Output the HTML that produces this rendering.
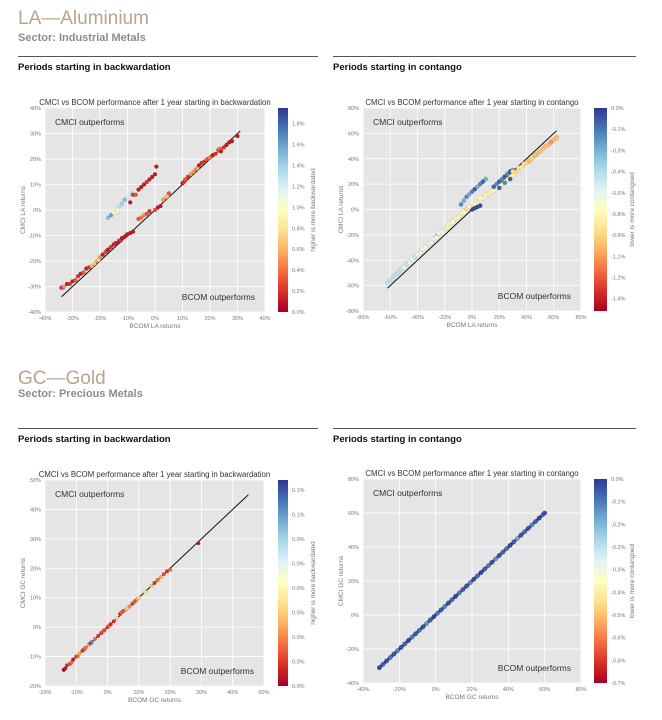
<!DOCTYPE html>
<html><head><meta charset="utf-8">
<style>
body{margin:0;background:#fff;width:662px;height:720px;overflow:hidden;font-family:"Liberation Sans",sans-serif;position:relative}
.h1{position:absolute;left:18px;font-size:19px;color:#b9a48d;font-weight:normal}
.h2{position:absolute;left:18px;font-size:11px;color:#8c8c8c;font-weight:bold}
.rule{position:absolute;height:1px;background:#555}
.per{position:absolute;font-size:9.5px;font-weight:bold;color:#111}
svg{position:absolute;left:0;top:0}
</style></head><body>
<div class="h1" style="top:8px">LA—Aluminium</div>
<div class="h2" style="top:32px">Sector: Industrial Metals</div>
<div class="rule" style="left:18px;width:300px;top:56px"></div>
<div class="rule" style="left:333px;width:303px;top:56px"></div>
<div class="per" style="left:18px;top:62px">Periods starting in backwardation</div>
<div class="per" style="left:333px;top:62px">Periods starting in contango</div>
<div class="h1" style="top:368px">GC—Gold</div>
<div class="h2" style="top:388px">Sector: Precious Metals</div>
<div class="rule" style="left:18px;width:300px;top:428px"></div>
<div class="rule" style="left:333px;width:303px;top:428px"></div>
<div class="per" style="left:18px;top:434px">Periods starting in backwardation</div>
<div class="per" style="left:333px;top:434px">Periods starting in contango</div>
<svg id="svg" width="662" height="720"></svg>
<script>
// LA backwardation
const laBackX=[-34,-33.5,-33,-32,-31,-30,-29,-28,-27,-26,-25,-24,-23,-22,-21,-20.5,-20,-19,-18,-17.5,-17,-16,-15,-14.5,-14,-13,-12.5,-12,-11,-10.5,-10,-9,-8,-6,-5,-4,-3,-2,0,1,2,3,4,4.5,5,10,10.5,11,12,13,14,15,15.5,16,17,18,19,20,20.5,21,22,23,23.5,24,25,26,27,28,30,
 -17,-16,-15,-14,-13.5,-13,-12,-11,-10,-9,-8.5,-8,-7,-6,-5,-4,-3,-2,-1,0,0.5];
const laBackY=[-30.5,-30.5,-30,-29,-29,-28,-27.5,-26,-25,-24.5,-23,-22.5,-22,-21,-20,-19.5,-18.5,-17.5,-16.5,-16,-15.5,-14.5,-13.5,-13,-13,-12,-12,-11,-10.5,-10,-9.5,-9,-8.5,-3.5,-3,-2,-1.5,-0.5,0,1,1.5,4,5,5.5,6.5,10.5,11,12,13,14,15,16,16.5,17.5,18.5,19,20,20.5,21,21.5,22,23.5,24,23,24.5,25.5,26.5,27,29,
 -3,-2,-1,-1,0,1.5,2.5,4,5,3,6.5,6,6,8,9,10,11,12,13,14,17];
const laBackC=[0.1,0.3,0.5,0.1,0.2,0.1,0.3,0.2,0.1,0.3,0.1,0.2,0.6,0.7,0.5,0.8,0.5,0.1,0.3,0.2,0.1,0.2,0.1,0.3,0.1,0.1,0.2,0.1,0.1,0.1,0.1,0.1,0.1,0.3,0.4,0.5,0.3,0.2,0.3,0.1,0.1,0.5,0.6,0.7,0.3,0.1,0.2,0.3,0.2,0.5,0.5,0.4,0.6,0.1,0.2,0.2,0.3,0.5,0.4,0.1,0.2,0.3,0.4,0.1,0.2,0.1,0.1,0.1,0.1,
 1.5,1.6,1.0,0.9,1.0,1.3,1.4,1.5,1.2,0.1,1.3,0.2,0.3,0.1,0.1,0.1,0.2,0.1,0.1,0.1,0.1];
const laBackTicks=[-40,-30,-20,-10,0,10,20,30,40];
const laBackCbTicks=[0,0.2,0.4,0.6,0.8,1.0,1.2,1.4,1.6,1.8];
// LA contango
const laContX=[-62,-60,-58,-56,-54,-52,-50,-48,-46,-44,-42,-40,-38,-36,-34,-32,-30,-28,-26,-24,-22,-20,-18,-16,-14,-12,-10,-8,-6,-4,-2,0,2,4,6,8,10,12,14,16,18,20,22,24,26,28,30,32,34,36,38,40,42,44,46,48,50,52,54,56,58,60,62,
 -8,-6,-4,-2,0,2,4,6,8,10,16,18,20,22,24,26,28,30,20,24,28,0,2,4,6,
 -58,-54,-50,-46,-42,-38,-34,-30,-26,-22,-18,-14,-10,-6,-2,2,6,10,30,34,38,42,46,50,54,58,62];
const laContY=[-58,-56,-53,-51,-49,-47,-45,-43,-41,-39,-37,-35,-33,-31,-29,-27,-25,-23,-21,-19,-17,-15,-13,-11,-9,-7,-5,-3,-1,0,1,2,3,5,7,9,10,12,14,15,17,19,20,22,24,26,27,29,31,33,35,37,38,40,42,44,46,48,50,51,53,55,57,
 4,7,10,12,14,16,18,20,22,24,18,20,22,24,26,28,30,31,17,21,24,0,1,2,3,
 -55,-50,-46,-42,-38,-34,-30,-26,-22,-18,-14,-10,-6,-2,2,5,9,12,30,33,36,39,43,46,50,53,56];
const laContC=[-0.5,-0.5,-0.5,-0.5,-0.6,-0.5,-0.6,-0.5,-0.6,-0.7,-0.6,-0.7,-0.6,-0.7,-0.7,-0.6,-0.7,-0.6,-0.4,-0.7,-0.7,-0.6,-0.7,-0.8,-0.7,-0.8,-0.7,-0.8,-0.8,-0.9,-0.8,-0.8,-0.7,-0.8,-0.8,-0.7,-0.7,-0.8,-0.7,-0.8,-0.7,-0.7,-0.8,-0.7,-0.8,-0.9,-0.8,-0.9,-0.9,-0.8,-0.9,-0.9,-1.0,-0.9,-1.0,-1.0,-0.9,-1.0,-1.0,-1.0,-1.1,-1.0,-1.0,
 -0.2,-0.3,-0.2,-0.3,-0.2,-0.1,-0.3,-0.2,-0.1,-0.3,-0.1,-0.2,-0.1,-0.2,-0.1,-0.2,-0.1,-0.2,-0.1,-0.2,-0.1,-0.05,-0.05,-0.05,-0.05,
 -0.5,-0.5,-0.6,-0.6,-0.5,-0.6,-0.7,-0.6,-0.7,-0.7,-0.8,-0.7,-0.8,-0.7,-0.8,-0.8,-0.7,-0.8,-0.9,-0.9,-0.9,-1.0,-1.0,-1.0,-1.0,-1.1,-1.0];
const laContTicks=[-80,-60,-40,-20,0,20,40,60,80];
const laContCbTicks=[0,-0.1556,-0.3111,-0.4667,-0.6222,-0.7778,-0.9333,-1.0889,-1.2444,-1.4];
const laContCbLabels=['0.0%','-0.1%','-0.3%','-0.4%','-0.6%','-0.8%','-0.9%','-1.1%','-1.2%','-1.4%'];
// GC backwardation
const gcBackX=[-14,-13.5,-13,-12,-11.5,-11,-10,-9.5,-9,-8,-7.5,-7,-6,-5.5,-5,-4,-3,-2,-1.5,-1,0,0.5,1,2,3,4,4.5,5,6,6.5,7,8,8.5,9,9.5,10,12,14,15,16,17,18,19,20,29];
const gcBackY=[-14.5,-14,-13,-12.5,-12,-11,-10,-9.8,-9,-8,-7.5,-7,-6,-5.5,-5,-4,-3,-2,-1.5,-1,0,0.5,1,2,3,4.5,5,5.5,6,6.5,7,8,8.5,9,9.5,10,12,14,15,16,17,18,19,19.5,28.5];
const gcBackC=[0,0.005,0.01,0.015,0.02,0.005,0.01,0.02,0.03,0.01,0.015,0.02,0.03,0.01,0.09,0.02,0.01,0.01,0.02,0.015,0.01,0.02,0.01,0.01,0.04,0.01,0.02,0.015,0.03,0.04,0.025,0.01,0.02,0.015,0.03,0.04,0.04,0.035,0.01,0.02,0.03,0.015,0.01,0.02,0.005];
const gcBackTicks=[-20,-10,0,10,20,30,40,50];
const gcBackCbTicks=[0,0.0125,0.025,0.0375,0.05,0.0625,0.075,0.0875,0.1];
const gcBackCbLabels=['0.0%','0.0%','0.0%','0.0%','0.0%','0.0%','0.0%','0.1%','0.1%'];
// GC contango
const gcContX=[-31,-29,-27,-25,-23,-21,-19,-17,-15,-13,-11,-9,-7,-5,-3,-1,1,3,5,7,9,11,13,15,17,19,21,23,25,27,29,31,33,35,37,39,41,43,45,47,49,51,53,55,57,59,60];
const gcContY=[-31,-29,-27,-25,-23,-21,-19,-17,-15,-13,-11,-9,-7,-5,-3,-1,1,3,5,7,9,11,13,15,17,19,21,23,25,27,29,31,33,35,37,39,41,43,45,47,49,51,53,55,57,59,60];
const gcContC=[-0.02,-0.05,-0.03,-0.08,-0.04,-0.1,-0.03,-0.06,-0.02,-0.09,-0.04,-0.07,-0.03,-0.12,-0.05,-0.02,-0.08,-0.04,-0.1,-0.03,-0.06,-0.02,-0.09,-0.05,-0.04,-0.11,-0.03,-0.07,-0.02,-0.05,-0.09,-0.04,-0.12,-0.03,-0.06,-0.08,-0.02,-0.05,-0.15,-0.04,-0.07,-0.03,-0.1,-0.05,-0.02,-0.06,-0.03];
const gcContTicks=[-40,-20,0,20,40,60,80];
const gcContCbTicks=[0,-0.0889,-0.1778,-0.2667,-0.3556,-0.4444,-0.5333,-0.6222,-0.7111,-0.8];
const gcContCbLabels=['0.0%','-0.1%','-0.2%','-0.2%','-0.3%','-0.4%','-0.5%','-0.6%','-0.6%','-0.7%'];

const stops=[[165,0,38],[215,48,39],[244,109,67],[253,174,97],[254,224,144],[255,255,191],[224,243,248],[171,217,233],[116,173,209],[69,117,180],[49,54,149]];
function cmap(t){t=Math.max(0,Math.min(1,t));const p=t*10,i=Math.min(9,Math.floor(p)),f=p-i;const a=stops[i],b=stops[i+1];return 'rgb('+[0,1,2].map(k=>Math.round(a[k]+(b[k]-a[k])*f)).join(',')+')';}
const NS='http://www.w3.org/2000/svg',svg=document.getElementById('svg');
function el(tag,at,parent){const e=document.createElementNS(NS,tag);for(const k in at)e.setAttribute(k,at[k]);(parent||svg).appendChild(e);return e;}
function txt(s,at,parent){const e=el('text',at,parent);e.textContent=s;return e;}
let gid=0;
function chart(c){
 const g=el('g',{});
 
 
 const [x0,x1]=[c.xt[0],c.xt[c.xt.length-1]],[y0,y1]=[c.yt[0],c.yt[c.yt.length-1]];
 const sx=v=>c.L+(v-x0)/(x1-x0)*(c.R-c.L), sy=v=>c.B-(v-y0)/(y1-y0)*(c.B-c.T);
 const bg=el('rect',{x:c.L,y:c.T,width:c.R-c.L,height:c.B-c.T,fill:'#e5e5e5'},g);
 
 
 c.xt.forEach(v=>{el('line',{x1:sx(v),x2:sx(v),y1:c.T,y2:c.B,stroke:'#fff','stroke-width':0.8},g);
  const t=txt(v+'%',{x:sx(v),y:c.B+8,'font-size':5.5,fill:'#777','text-anchor':'middle'},g);
  
  });
 c.yt.forEach(v=>{el('line',{x1:c.L,x2:c.R,y1:sy(v),y2:sy(v),stroke:'#fff','stroke-width':0.8},g);
  const t=txt(v+'%',{x:c.L-4,y:sy(v)+2,'font-size':5.5,fill:'#777','text-anchor':'end'},g);
  
  });
 if(c.thick){const tl=el('line',{x1:sx(c.line[0]),y1:sy(c.line[0]),x2:sx(c.line[1]),y2:sy(c.line[1]),stroke:'#2b3f8c','stroke-width':3},g);
  
  }
 const ln=el('line',{x1:sx(c.line[0]),y1:sy(c.line[0]),x2:sx(c.line[1]),y2:sy(c.line[1]),stroke:'#111','stroke-width':1},g);
 
 
 const cn=v=>(v-c.cmin)/(c.cmax-c.cmin);
 c.X.forEach((x,i)=>{const p=el('circle',{cx:sx(x),cy:sy(c.Y[i]),r:c.r||2,fill:cmap(cn(c.C[i])),stroke:'rgba(60,60,60,0.3)','stroke-width':0.3},g);
  
  });
 const t1=txt(c.title,{x:(c.L+c.R)/2,y:c.T-3,'font-size':7.8,fill:'#333','text-anchor':'middle'},g);
 
 
 const a1=txt('CMCI outperforms',{x:c.L+10,y:c.T+17,'font-size':8.5,fill:'#333'},g);
 
 
 const a2=txt('BCOM outperforms',{x:c.R-10,y:c.B-12,'font-size':8.5,fill:'#333','text-anchor':'end'},g);
 
 
 const xl=txt(c.xl,{x:(c.L+c.R)/2,y:c.B+16,'font-size':6.5,fill:'#777','text-anchor':'middle'},g);
 
 
 const yx=c.L-20,yy=(c.T+c.B)/2;
 const yl=txt(c.yl,{x:yx,y:yy,'font-size':6.5,fill:'#777','text-anchor':'middle',transform:`rotate(-90 ${yx} ${yy})`},g);
 
 
 const id='gr'+(gid++),d=el('defs',{},g),lg=el('linearGradient',{id:id,x1:0,y1:1,x2:0,y2:0},d);
 for(let k=0;k<=10;k++)el('stop',{offset:k/10,'stop-color':cmap(k/10)},lg);
 const cb=el('rect',{x:c.cbx,y:c.T,width:c.cbw,height:c.B-c.T,fill:`url(#${id})`},g);
 
 
 const cy=v=>c.B-cn(v)*(c.B-c.T);
 c.cbt.forEach((v,i)=>{const t=txt(c.cbl?c.cbl[i]:v.toFixed(1)+'%',{x:c.cbx+c.cbw+4,y:cy(v)+2,'font-size':5.5,fill:'#777'},g);
  
  });
 const lx=c.cbx+c.cbw+27;
 const cl=txt(c.cbTitle,{x:lx,y:yy,'font-size':6.5,fill:'#777','text-anchor':'middle',transform:`rotate(-90 ${lx} ${yy})`},g);
 
 
}
chart({name:'la-backwardation-chart',L:45,R:265,T:108,B:312,xt:laBackTicks,yt:laBackTicks,X:laBackX,Y:laBackY,C:laBackC,cmin:0,cmax:1.95,line:[-34,31],r:2,
 title:'CMCI vs BCOM performance after 1 year starting in backwardation',xl:'BCOM LA returns',yl:'CMCI LA returns',cbx:278,cbw:10,cbt:laBackCbTicks,cbTitle:'higher is more backwardated'});
chart({name:'la-contango-chart',L:363,R:581,T:108,B:311,xt:laContTicks,yt:laContTicks,X:laContX,Y:laContY,C:laContC,cmin:-1.49,cmax:0,line:[-62,62],r:2.2,
 title:'CMCI vs BCOM performance after 1 year starting in contango',xl:'BCOM LA returns',yl:'CMCI LA returns',cbx:594,cbw:13,cbt:laContCbTicks,cbl:laContCbLabels,cbTitle:'lower is more contangoed'});
chart({name:'gc-backwardation-chart',L:45,R:264,T:480,B:686,xt:gcBackTicks,yt:gcBackTicks,X:gcBackX,Y:gcBackY,C:gcBackC,cmin:0,cmax:0.105,line:[-14,45],r:1.9,
 title:'CMCI vs BCOM performance after 1 year starting in backwardation',xl:'BCOM GC returns',yl:'CMCI GC returns',cbx:278,cbw:10,cbt:gcBackCbTicks,cbl:gcBackCbLabels,cbTitle:'higher is more backwardated'});
chart({name:'gc-contango-chart',L:363,R:581,T:479,B:683,xt:gcContTicks,yt:gcContTicks,X:gcContX,Y:gcContY,C:gcContC,cmin:-0.8,cmax:0,line:[-31,60],r:2.3,thick:true,
 title:'CMCI vs BCOM performance after 1 year starting in contango',xl:'BCOM GC returns',yl:'CMCI GC returns',cbx:594,cbw:13,cbt:gcContCbTicks,cbl:gcContCbLabels,cbTitle:'lower is more contangoed'});
</script>
</body></html>
